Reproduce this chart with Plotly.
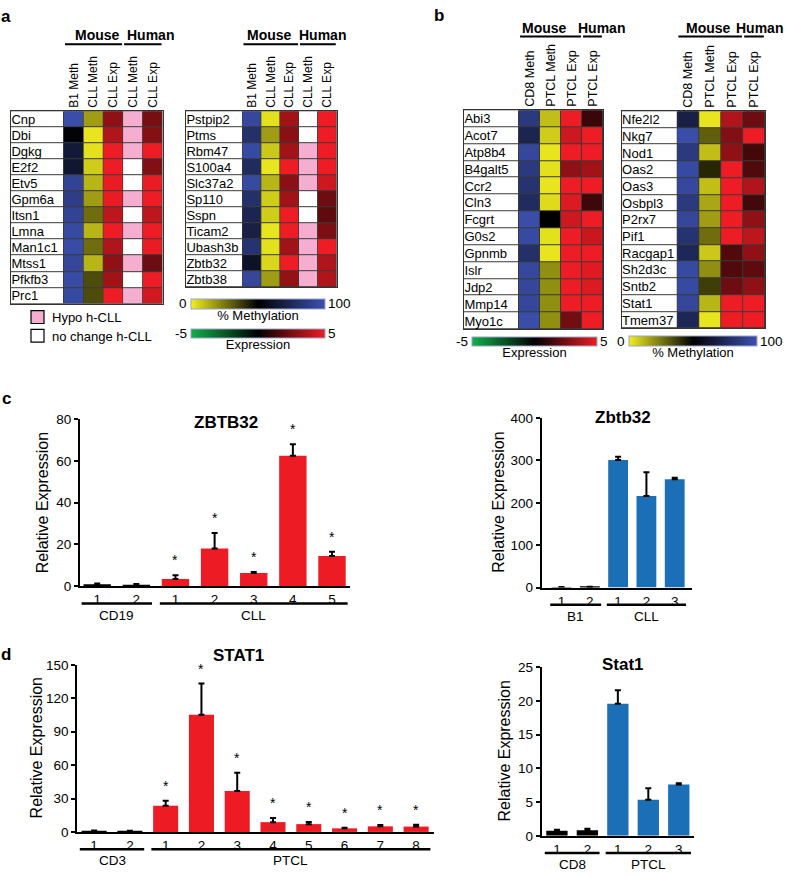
import plotly.graph_objects as go

W, H = 787, 876
FONT = "Liberation Sans, Arial, sans-serif"

METH_SCALE = [[0.0, "#f2ee1e"], [0.5, "#000000"], [1.0, "#3c50b0"]]
EXP_SCALE = [[0.0, "#12b04c"], [0.5, "#000000"], [1.0, "#ee1c24"]]
HYPO_SCALE = [[0.0, "#ffffff"], [1.0, "#f5aed0"]]
WHITE_SCALE = [[0.0, "#ffffff"], [1.0, "#ffffff"]]
RED = "#ed1c24"
BLUE = "#1a6fb6"

# ---------- panel a: B1 / CLL heatmaps ----------
a_left_genes = ["Cnp", "Dbi", "Dgkg", "E2f2", "Etv5", "Gpm6a", "Itsn1", "Lmna",
                "Man1c1", "Mtss1", "Pfkfb3", "Prc1"]
a_left_b1_meth = [98, 52, 66, 64, 92, 88, 92, 96, 97, 94, 97, 96]
a_left_cll_meth = [17, 2, 3, 7, 12, 17, 27, 12, 27, 12, 34, 34]
a_left_cll_exp = [3.0, 3.7, 5.0, 5.0, 4.9, 4.9, 4.0, 5.0, 3.7, 3.0, 3.4, 5.0]
a_left_h_hypo = [1, 1, 1, 0, 0, 1, 0, 1, 0, 1, 0, 1]
a_left_h_exp = [2.5, 2.8, 5.0, 2.7, 4.9, 5.0, 4.0, 5.0, 4.9, 2.3, 5.0, 4.4]

a_right_genes = ["Pstpip2", "Ptms", "Rbm47", "S100a4", "Slc37a2", "Sp110", "Sspn",
                 "Ticam2", "Ubash3b", "Zbtb32", "Zbtb38"]
a_right_b1_meth = [95, 80, 96, 77, 96, 80, 73, 70, 82, 61, 94]
a_right_cll_meth = [3, 17, 8, 2, 12, 7, 7, 2, 3, 5, 17]
a_right_cll_exp = [3.4, 2.9, 3.4, 5.0, 2.9, 3.4, 5.0, 5.0, 3.4, 5.0, 3.1]
a_right_h_hypo = [0, 0, 1, 1, 1, 0, 0, 1, 1, 1, 1]
a_right_h_exp = [5.0, 5.0, 5.0, 5.0, 4.3, 2.3, 2.0, 2.6, 5.0, 3.7, 3.7]

# ---------- panel b: CD8 / PTCL heatmaps ----------
b_left_genes = ["Abi3", "Acot7", "Atp8b4", "B4galt5", "Ccr2", "Cln3", "Fcgrt", "G0s2",
                "Gpnmb", "Islr", "Jdp2", "Mmp14", "Myo1c"]
b_left_cd8_meth = [86, 73, 94, 86, 82, 77, 98, 96, 80, 95, 94, 94, 98]
b_left_ptcl_meth = [10, 7, 2, 3, 2, 4, 50, 3, 2, 20, 20, 20, 20]
b_left_ptcl_exp = [5.0, 4.3, 5.0, 3.0, 5.0, 4.6, 4.3, 5.0, 5.0, 5.0, 5.0, 5.0, 2.4]
b_left_h_exp = [1.2, 5.0, 5.0, 3.4, 5.0, 1.3, 5.0, 4.2, 5.0, 4.7, 4.6, 5.0, 5.0]

b_right_genes = ["Nfe2l2", "Nkg7", "Nod1", "Oas2", "Oas3", "Osbpl3", "P2rx7", "Pif1",
                 "Racgap1", "Sh2d3c", "Sntb2", "Stat1", "Tmem37"]
b_right_cd8_meth = [70, 98, 86, 96, 95, 86, 94, 82, 75, 96, 96, 94, 75]
b_right_ptcl_meth = [2, 30, 10, 42, 10, 15, 17, 27, 8, 20, 37, 12, 2]
b_right_ptcl_exp = [3.7, 2.7, 3.0, 5.0, 5.0, 5.0, 5.0, 5.0, 1.7, 1.7, 2.3, 5.0, 5.0]
b_right_h_exp = [2.3, 5.0, 1.4, 1.7, 3.7, 1.4, 3.0, 4.0, 3.0, 2.0, 3.0, 5.0, 5.0]

# ---------- panel c / d: qPCR bars ----------
c_human_ctrl = [0.9, 0.7]
c_human_ctrl_err = [0.4, 0.3]
c_human_cll = [3.5, 18.0, 6.3, 62.5, 14.5]
c_human_cll_err = [1.8, 7.5, 0.5, 5.5, 2.0]
c_mouse_ctrl = [1.0, 1.2]
c_mouse_ctrl_err = [0.6, 0.6]
c_mouse_cll = [301, 216, 256]
c_mouse_cll_err = [8, 56, 3]
d_human_ctrl = [0.8, 0.6]
d_human_ctrl_err = [0.4, 0.4]
d_human_ptcl = [23.5, 105.3, 36.7, 8.8, 7.0, 3.2, 5.0, 4.8]
d_human_ptcl_err = [4.4, 27.9, 16.5, 3.8, 2.0, 0.6, 1.2, 1.6]
d_mouse_ctrl = [0.75, 0.85]
d_mouse_ctrl_err = [0.15, 0.2]
d_mouse_ptcl = [19.6, 5.35, 7.6]
d_mouse_ptcl_err = [2.0, 1.7, 0.2]


def fx(px):
    return px / W


def fy(px):
    return 1 - px / H


def text_at(fig, text, x, y, size, **kw):
    """Paper-anchored text placed by pixel position."""
    opts = dict(xanchor="center", yanchor="middle")
    opts.update(kw)
    fig.add_annotation(text=text, x=fx(x), y=fy(y), xref="paper", yref="paper",
                       showarrow=False, font=dict(size=size, color="black"), **opts)


def ax_names(n):
    s = "" if n == 1 else str(n)
    return f"x{s}", f"y{s}", f"xaxis{s}", f"yaxis{s}"


def add_heatmap(fig, n, genes, columns, box, groups, header_y, scales, fsize):
    """Heatmap block with a white gene-name column on the left."""
    label_left, label_right, right, top, bottom = box
    ncol = len(columns)
    unit = (right - label_right) / ncol
    lab_w = (label_right - label_left) / unit
    xa, ya, xkey, ykey = ax_names(n)

    fig.add_trace(go.Heatmap(
        x=[-0.5 - lab_w, -0.5], y=genes, z=[[0] for _ in genes],
        colorscale=WHITE_SCALE, showscale=False, xgap=1, ygap=1,
        hoverinfo="skip", xaxis=xa, yaxis=ya))

    for i, (name, kind, values) in enumerate(columns):
        if kind == "hypo":
            style = dict(colorscale=HYPO_SCALE, zmin=0, zmax=1, showscale=False)
        else:
            style = dict(coloraxis=scales[kind])
        fig.add_trace(go.Heatmap(
            x=[i - 0.5, i + 0.5], y=genes, z=[[v] for v in values],
            xgap=1, ygap=1, hoverinfo="skip", xaxis=xa, yaxis=ya, **style))

    fig.layout[xkey] = dict(
        domain=[fx(label_left), fx(right)], range=[-0.5 - lab_w, ncol - 0.5],
        side="top", tickmode="array", tickvals=list(range(ncol)),
        ticktext=[c[0] for c in columns],
        tickangle=-90, ticks="", showgrid=False, zeroline=False,
        showline=True, mirror=True, linecolor="#333333", linewidth=1,
        tickfont=dict(size=fsize, color="black"), anchor=ya, fixedrange=True)
    fig.layout[ykey] = dict(
        domain=[fy(bottom), fy(top)], type="category",
        categoryorder="array", categoryarray=genes, autorange="reversed",
        tickmode="array", tickvals=genes, ticktext=genes,
        ticklabelposition="inside", ticks="", showgrid=False, zeroline=False,
        showline=True, mirror=True, linecolor="#333333", linewidth=1,
        tickfont=dict(size=13, color="black"), anchor=xa, fixedrange=True)

    # dark backdrop so the cell gaps read as grid lines
    fig.add_shape(type="rect", xref=f"{xa} domain", yref=f"{ya} domain",
                  x0=0, x1=1, y0=0, y1=1, fillcolor="#3a3a3a",
                  line=dict(width=0), layer="below")

    text_y, line_y = header_y
    for gname, first, last, text_x in groups:
        text_at(fig, f"<b>{gname}</b>", text_x, text_y, 14)
        fig.add_shape(type="line", xref=xa, yref="paper",
                      x0=first - 0.45, x1=last + 0.45, y0=fy(line_y), y1=fy(line_y),
                      line=dict(color="black", width=2))


def colorbar(fig, left, top, length, thick, title, lo, hi):
    text_at(fig, lo, left - 2, top + thick / 2, 13.5, xanchor="right")
    text_at(fig, hi, left + length + 1, top + thick / 2, 13.5, xanchor="left")
    return dict(orientation="h", x=fx(left), xanchor="left", y=fy(top), yanchor="top",
                len=length, lenmode="pixels", thickness=thick, thicknessmode="pixels",
                xpad=0, ypad=0, outlinewidth=1, outlinecolor="#9aa4c8",
                tickmode="array", tickvals=[], ticks="",
                tickfont=dict(size=1, color="rgba(0,0,0,0)"),
                title=dict(text=title, side="bottom", font=dict(size=13, color="black")))


def add_bar_panel(fig, n, groups, title, ymax, ystep, xrange, box, title_xy, ytitle_x):
    left, right, base, ytop = box
    xa, ya, xkey, ykey = ax_names(n)
    tickvals, ticktext = [], []
    idx = 0
    for gname, vals, errs, color, starred in groups:
        xs = list(range(idx, idx + len(vals)))
        fig.add_trace(go.Bar(
            x=xs, y=vals, width=0.7, marker=dict(color=color, line=dict(width=0)),
            error_y=dict(type="data", array=errs, arrayminus=[0] * len(errs),
                         symmetric=False, color="black", thickness=2, width=3),
            showlegend=False, hoverinfo="skip", xaxis=xa, yaxis=ya))
        tickvals += xs
        ticktext += [str(k + 1) for k in range(len(vals))]
        fig.add_shape(type="line", xref=xa, yref="paper",
                      x0=xs[0] - 0.4, x1=xs[-1] + 0.4,
                      y0=fy(base + 17.5), y1=fy(base + 17.5),
                      line=dict(color="black", width=2.5))
        fig.add_annotation(text=gname, x=(xs[0] + xs[-1]) / 2, xref=xa,
                           y=fy(base + 29.5), yref="paper", showarrow=False,
                           xanchor="center", yanchor="middle",
                           font=dict(size=13.5, color="black"))
        if starred:
            for x, v, e in zip(xs, vals, errs):
                fig.add_annotation(text="*", x=x, y=v + e, xref=xa, yref=ya,
                                   yshift=15, showarrow=False,
                                   xanchor="center", yanchor="middle",
                                   font=dict(size=14, color="black"))
        idx += len(vals)

    fig.layout[xkey] = dict(
        domain=[fx(left), fx(right)], range=xrange, tickvals=tickvals, ticktext=ticktext,
        ticks="", showgrid=False, zeroline=False, showline=True, linecolor="black",
        linewidth=2, tickfont=dict(size=13.5, color="black"), anchor=ya, fixedrange=True)
    fig.layout[ykey] = dict(
        domain=[fy(base), fy(ytop)], range=[0, ymax],
        tickvals=list(range(0, ymax + 1, ystep)), ticks="outside", ticklen=4,
        tickwidth=1.5, tickcolor="black", showgrid=False, zeroline=False,
        showline=True, linecolor="black", linewidth=2,
        tickfont=dict(size=13.5, color="black"), anchor=xa, fixedrange=True)

    text_at(fig, f"<b>{title}</b>", title_xy[0], title_xy[1], 17)
    text_at(fig, "Relative Expression", ytitle_x, (base + ytop) / 2, 16, textangle=-90)


fig = go.Figure()

scales_a = {"meth": "coloraxis", "exp": "coloraxis2"}
scales_b = {"meth": "coloraxis4", "exp": "coloraxis3"}

add_heatmap(fig, 1, a_left_genes,
            [("B1 Meth", "meth", a_left_b1_meth), ("CLL Meth", "meth", a_left_cll_meth),
             ("CLL Exp", "exp", a_left_cll_exp), ("CLL Meth", "hypo", a_left_h_hypo),
             ("CLL Exp", "exp", a_left_h_exp)],
            (11, 64, 162.5, 106, 302), [("Mouse", 0, 2, 97.5), ("Human", 3, 4, 150)],
            (28, 38), scales_a, 12)
add_heatmap(fig, 2, a_right_genes,
            [("B1 Meth", "meth", a_right_b1_meth), ("CLL Meth", "meth", a_right_cll_meth),
             ("CLL Exp", "exp", a_right_cll_exp), ("CLL Meth", "hypo", a_right_h_hypo),
             ("CLL Exp", "exp", a_right_h_exp)],
            (186, 242.5, 336.7, 106, 285), [("Mouse", 0, 2, 269), ("Human", 3, 4, 322.5)],
            (28, 38), scales_a, 12)
add_heatmap(fig, 3, b_left_genes,
            [("CD8 Meth", "meth", b_left_cd8_meth), ("PTCL Meth", "meth", b_left_ptcl_meth),
             ("PTCL Exp", "exp", b_left_ptcl_exp), ("PTCL Exp", "exp", b_left_h_exp)],
            (464, 519, 603, 105, 328), [("Mouse", 0, 2, 544.5), ("Human", 3, 3, 601)],
            (21, 30), scales_b, 12.5)
add_heatmap(fig, 4, b_right_genes,
            [("CD8 Meth", "meth", b_right_cd8_meth), ("PTCL Meth", "meth", b_right_ptcl_meth),
             ("PTCL Exp", "exp", b_right_ptcl_exp), ("PTCL Exp", "exp", b_right_h_exp)],
            (621.7, 677.3, 765, 106, 327), [("Mouse", 0, 2, 708.5), ("Human", 3, 3, 759)],
            (21, 30), scales_b, 12.5)

add_bar_panel(fig, 5, [("CD19", c_human_ctrl, c_human_ctrl_err, "black", False),
                       ("CLL", c_human_cll, c_human_cll_err, RED, True)],
              "ZBTB32", 80, 20, [-0.44, 6.46], (80, 350, 589.3, 419.3), (226, 422.5), 42.7)
add_bar_panel(fig, 6, [("B1", c_mouse_ctrl, c_mouse_ctrl_err, "black", False),
                       ("CLL", c_mouse_cll, c_mouse_cll_err, BLUE, False)],
              "Zbtb32", 400, 100, [-0.7, 4.6], (541.7, 691.7, 590.7, 418.3), (622.7, 418), 499)
add_bar_panel(fig, 7, [("CD3", d_human_ctrl, d_human_ctrl_err, "black", False),
                       ("PTCL", d_human_ptcl, d_human_ptcl_err, RED, True)],
              "STAT1", 150, 30, [-0.47, 9.5], (77.3, 434, 839.3, 669.3), (238, 660), 36)
add_bar_panel(fig, 8, [("CD8", d_mouse_ctrl, d_mouse_ctrl_err, "black", False),
                       ("PTCL", d_mouse_ptcl, d_mouse_ptcl_err, BLUE, False)],
              "Stat1", 25, 5, [-0.5, 4.5], (541.7, 694, 843.3, 671.7), (622.7, 669), 505)

# hypo / no-change legend of panel a
for text, color, top in [("Hypo h-CLL", "#f5aed0", 309), ("no change h-CLL", "white", 328)]:
    fig.add_shape(type="rect", xref="paper", yref="paper", x0=fx(31), x1=fx(44),
                  y0=fy(top + 13), y1=fy(top), fillcolor=color,
                  line=dict(color="black", width=1.2))
    text_at(fig, text, 50, top + 7, 13, xanchor="left")

for letter, x, y in [("a", 6, 10), ("b", 439, 9), ("c", 6, 398), ("d", 6, 659)]:
    text_at(fig, f"<b>{letter}</b>", x, y, 17)

fig.update_layout(
    width=W, height=H, margin=dict(l=0, r=0, t=0, b=0),
    paper_bgcolor="white", plot_bgcolor="white",
    font=dict(family=FONT, color="black"),
    barmode="overlay", showlegend=False, hovermode=False,
    coloraxis=dict(colorscale=METH_SCALE, cmin=0, cmax=100,
                   colorbar=colorbar(fig, 191, 297, 134, 10, "% Methylation", "0", "100")),
    coloraxis2=dict(colorscale=EXP_SCALE, cmin=-5, cmax=5,
                    colorbar=colorbar(fig, 191, 328, 134, 9, "Expression", "-5", "5")),
    coloraxis3=dict(colorscale=EXP_SCALE, cmin=-5, cmax=5,
                    colorbar=colorbar(fig, 472, 336, 125, 9, "Expression", "-5", "5")),
    coloraxis4=dict(colorscale=METH_SCALE, cmin=0, cmax=100,
                    colorbar=colorbar(fig, 629, 335, 128, 10, "% Methylation", "0", "100")),
)

# the page's default 8px body margin would shift the whole figure
fig.write_html("out.html", config={"displayModeBar": False},
               post_script="document.body.style.margin = '0';")
